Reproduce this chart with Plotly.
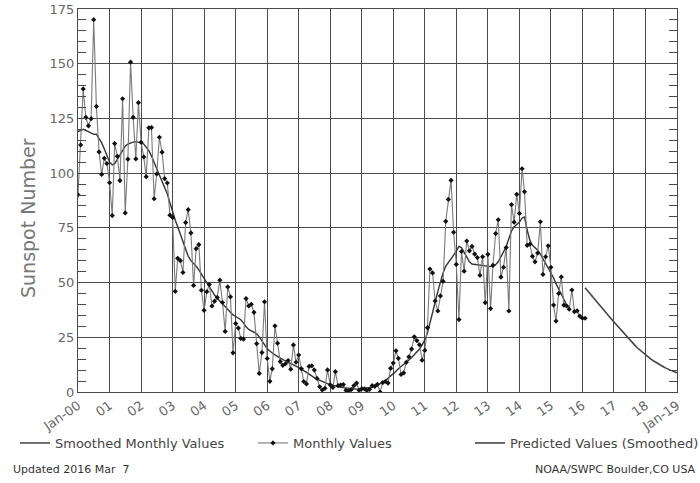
import pandas as pd
import plotly.graph_objects as go

# monthly sunspot numbers, Jan 2000 .. Feb 2016
monthly = [
    90.1, 112.9, 138.5, 125.5, 121.6, 124.9, 170.1, 130.5, 109.7, 99.4, 106.8, 104.4,
    95.6, 80.6, 113.5, 107.7, 96.6, 134.0, 81.8, 106.4, 150.7, 125.5, 106.5, 132.2,
    114.1, 107.4, 98.4, 120.7, 120.8, 88.3, 99.6, 116.4, 109.6, 97.5, 95.5, 80.8,
    79.7, 46.0, 61.1, 60.0, 54.6, 77.4, 83.3, 72.7, 48.7, 65.5, 67.3, 46.5,
    37.3, 45.8, 49.1, 39.3, 41.5, 43.2, 51.1, 40.9, 27.7, 48.0, 43.5, 17.9,
    31.3, 29.2, 24.5, 24.2, 42.7, 39.3, 40.1, 36.4, 22.1, 8.5, 18.0, 41.2,
    15.3, 4.9, 10.6, 30.2, 22.3, 13.9, 12.2, 12.9, 14.4, 10.4, 21.5, 13.6,
    16.9, 10.6, 4.8, 3.7, 11.7, 12.0, 10.0, 6.2, 2.4, 0.9, 1.7, 10.1,
    3.3, 2.1, 9.3, 2.9, 3.2, 3.4, 0.8, 0.5, 1.1, 2.9, 4.1, 0.8,
    1.5, 1.4, 0.7, 1.2, 2.9, 2.6, 3.5, 0.0, 4.3, 4.8, 4.1, 10.8,
    13.2, 18.8, 15.4, 8.0, 8.7, 13.6, 16.1, 19.6, 25.2, 23.5, 21.6, 14.5,
    19.0, 29.4, 56.2, 54.4, 41.6, 37.0, 43.9, 50.6, 78.0, 88.0, 96.7, 73.0,
    58.3, 33.1, 64.2, 55.2, 69.0, 64.5, 66.5, 63.0, 61.4, 53.3, 61.8, 40.8,
    62.9, 38.1, 57.9, 72.4, 78.7, 52.5, 57.0, 66.0, 37.0, 85.6, 77.6, 90.3,
    81.6, 102.0, 91.5, 67.0, 67.5, 62.0, 59.5, 63.5, 77.8, 53.7, 61.8, 66.8,
    57.0, 39.7, 32.4, 45.0, 52.6, 39.7, 39.3, 37.8, 46.6, 36.7, 37.1, 34.7,
    33.7, 33.7,
]

# 13-month smoothed values, Jan 2000 .. Aug 2015
smoothed = [
    119.0, 119.6, 120.0, 119.5, 118.8, 118.0, 117.7, 117.8, 116.0, 113.8, 111.0, 108.0,
    105.0, 103.8, 104.3, 106.3, 108.5, 110.6, 112.3, 113.3, 113.8, 114.2, 114.4, 114.2,
    113.8, 113.3, 112.0, 110.3, 107.8, 104.8, 101.6, 98.8, 96.2, 93.5, 90.5, 86.5,
    82.0, 78.5, 75.5, 72.0, 68.5, 65.0, 62.0, 60.0, 58.8, 57.5, 55.8, 53.8,
    51.8, 49.8, 47.8, 46.0, 44.3, 42.8, 41.5, 40.2, 39.0, 37.6, 36.3, 35.2,
    34.5, 33.8, 33.0, 31.6, 29.8, 28.6, 28.0, 27.5, 26.6, 25.2, 23.6, 21.6,
    19.8, 18.6, 17.8, 17.0, 16.2, 15.4, 14.8, 14.2, 13.6, 13.0, 12.5, 12.0,
    11.3, 10.6, 9.8, 8.9, 8.1, 7.3, 6.6, 5.9, 5.3, 4.7, 4.2, 3.8,
    3.4, 3.0, 2.7, 2.5, 2.2, 2.0, 1.8, 1.6, 1.4, 1.3, 1.3, 1.4,
    1.5, 1.6, 1.8, 2.0, 2.2, 2.6, 3.1, 3.7, 4.4, 5.2, 6.2, 7.3,
    8.4, 9.5, 10.6, 11.6, 12.3, 13.3, 14.6, 15.8, 17.0, 18.2, 19.6, 21.5,
    23.8, 27.0, 31.0, 36.0, 41.0, 46.0, 50.5, 54.5, 57.5, 59.0, 60.5, 62.5,
    64.5, 66.5, 66.0, 64.0, 61.5, 59.5, 58.5, 58.3, 58.2, 58.0, 58.0, 57.7,
    57.5, 57.3, 57.5, 58.2, 59.5, 61.5, 64.0, 66.5, 70.0, 73.5, 75.5, 76.5,
    77.5, 79.5, 80.0, 74.0, 69.5, 67.0, 65.8, 64.8, 63.0, 61.0, 58.8, 56.5,
    54.5, 52.2, 49.5, 47.0, 44.5, 42.0, 40.0, 38.5,
]

# predicted (smoothed) values, Feb 2016 .. Jan 2019
predicted = [
    47.6, 46.2, 44.8, 43.3, 41.9, 40.5, 39.1, 37.7, 36.2, 34.8, 33.4,
    32.0, 30.6, 29.2, 27.8, 26.4, 25.0, 23.7, 22.5, 21.3, 20.1, 19.0, 17.9,
    16.9, 16.0, 15.1, 14.3, 13.5, 12.8, 12.1, 11.4, 10.8, 10.2, 9.7, 9.2,
    8.8,
]

year_ticks = pd.date_range("2000-01-01", "2019-01-01", freq="YS")
year_labels = ["Jan-00"] + ["%02d" % (d.year % 100) for d in year_ticks[1:-1]] + ["Jan-19"]

monthly_dates = pd.date_range("2000-01-01", periods=len(monthly), freq="MS")
smoothed_dates = pd.date_range("2000-01-01", periods=len(smoothed), freq="MS")
predicted_dates = pd.date_range("2016-02-01", periods=len(predicted), freq="MS")

fig = go.Figure()
fig.add_trace(go.Scatter(x=smoothed_dates, y=smoothed, mode="lines",
                         name="Smoothed Monthly Values", legend="legend",
                         line=dict(color="#333333", width=1.4)))
fig.add_trace(go.Scatter(x=monthly_dates, y=monthly, mode="lines+markers",
                         name="Monthly Values", legend="legend2",
                         line=dict(color="#7a7a7a", width=1.1),
                         marker=dict(color="#111111", size=4, symbol="diamond")))
fig.add_trace(go.Scatter(x=predicted_dates, y=predicted, mode="lines",
                         name="Predicted Values (Smoothed)", legend="legend3",
                         line=dict(color="#444444", width=1.6)))

W, H = 700, 483


# pixel -> paper helpers for annotations (plot area 78..677 x, 9..392 y)
def px(x):
    return (x - 78) / 599.0


def py(y):
    return (392 - y) / 383.0


leg_font = dict(family="DejaVu Sans", size=13, color="#444444")
leg_common = dict(orientation="h", yanchor="middle", xanchor="left", font=leg_font,
                  bgcolor="rgba(0,0,0,0)", itemwidth=30,
                  xref="container", yref="container")

fig.update_layout(
    width=W, height=H,
    margin=dict(l=78, r=23, t=9, b=91, autoexpand=False),
    plot_bgcolor="white", paper_bgcolor="white",
    font=dict(family="DejaVu Sans", color="#666666", size=12),
    showlegend=True,
    legend=dict(x=15 / W, y=1 - 443 / H, **leg_common),
    legend2=dict(x=253 / W, y=1 - 443 / H, **leg_common),
    legend3=dict(x=470 / W, y=1 - 443 / H, **leg_common),
)

fig.update_xaxes(
    type="date", range=["2000-01-01", "2019-01-01"],
    tickvals=year_ticks, ticktext=year_labels, tickangle=-35,
    tickfont=dict(size=13, color="#666666"), automargin=False,
    showgrid=True, gridcolor="#4a4a4a", gridwidth=1,
    showline=True, linecolor="#4a4a4a", linewidth=1, mirror=True,
    ticks="", zeroline=False,
)
fig.update_yaxes(
    range=[0, 175], tick0=0, dtick=25,
    tickfont=dict(size=13, color="#666666"), automargin=False,
    showgrid=True, gridcolor="#4a4a4a", gridwidth=1,
    showline=True, linecolor="#4a4a4a", linewidth=1, mirror="ticks",
    ticks="inside", ticklen=8, tickcolor="#4a4a4a",
    minor=dict(dtick=5, ticks="inside", ticklen=8, tickcolor="#4a4a4a", showgrid=False),
    zeroline=False,
)

fig.add_annotation(text="Sunspot Number", textangle=-90, showarrow=False,
                   xref="paper", yref="paper", x=px(28), y=py(218),
                   xanchor="center", yanchor="middle",
                   font=dict(size=19, color="#777777"))
fig.add_annotation(text="Updated 2016 Mar  7", showarrow=False,
                   xref="paper", yref="paper", x=px(11), y=py(470),
                   xanchor="left", yanchor="middle",
                   font=dict(size=11, color="#333333"))
fig.add_annotation(text="NOAA/SWPC Boulder,CO USA", showarrow=False,
                   xref="paper", yref="paper", x=px(698), y=py(470),
                   xanchor="right", yanchor="middle",
                   font=dict(size=11, color="#333333"))

# the page's default body margin would shift the 700x483 figure
fig.write_html("out.html", config={"displayModeBar": False},
               post_script="document.body.style.margin = '0';")
